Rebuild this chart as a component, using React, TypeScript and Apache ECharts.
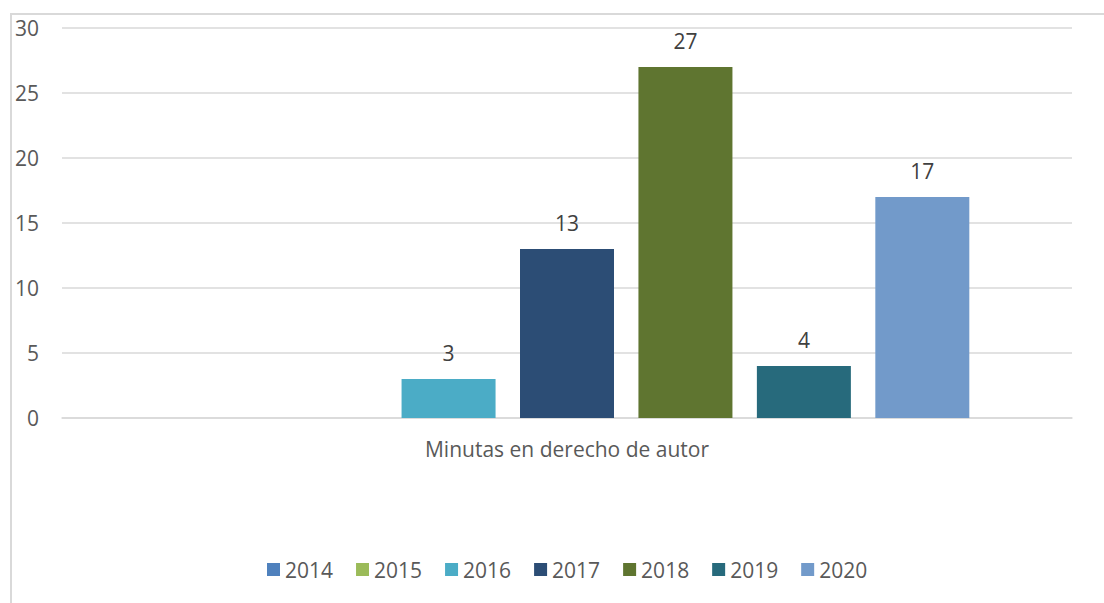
import React, { useEffect, useRef } from "react";
import * as echarts from "echarts";

const categories = ["Minutas en derecho de autor"];
const years = ["2014", "2015", "2016", "2017", "2018", "2019", "2020"];
const values: (number | null)[] = [null, null, 3, 13, 27, 4, 17];
const colors = ["#4F81BD", "#9BBB59", "#4BACC6", "#2C4D75", "#5F7530", "#276A7C", "#729ACA"];
const yTicks = { min: 0, max: 30, interval: 5 };

const FONT = "'Open Sans', 'Noto Sans', sans-serif";

export default function App() {
  const ref = useRef<HTMLDivElement>(null);
  useEffect(() => {
    if (!ref.current) return;
    const chart = echarts.init(ref.current, null, { renderer: "svg" });
    chart.setOption({
      animation: false,
      backgroundColor: "#ffffff",
      textStyle: { fontFamily: FONT },
      graphic: [
        {
          type: "rect",
          shape: { x: 11, y: 14, width: 1300, height: 800 },
          style: { fill: "none", stroke: "#D9D9D9", lineWidth: 2 },
          silent: true,
          z: -1,
        },
      ],
      grid: { left: 62, right: 32, top: 28, bottom: 185, containLabel: false },
      legend: {
        data: years,
        bottom: 18,
        left: 262,
        icon: "rect",
        itemWidth: 13,
        itemHeight: 13,
        itemGap: 23,
        textStyle: { color: "#595959", fontSize: 21, fontFamily: FONT },
      },
      xAxis: {
        type: "category",
        data: categories,
        axisTick: { show: false },
        axisLine: { show: true, lineStyle: { color: "#D9D9D9", width: 1.5 } },
        axisLabel: { color: "#595959", fontSize: 21, margin: 20, fontFamily: FONT },
      },
      yAxis: {
        type: "value",
        min: yTicks.min,
        max: yTicks.max,
        interval: yTicks.interval,
        axisLine: { show: false },
        axisTick: { show: false },
        axisLabel: { color: "#595959", fontSize: 21, margin: 23, fontFamily: FONT },
        splitLine: { lineStyle: { color: "#D9D9D9", width: 1.5 } },
      },
      series: years.map((y, i) => ({
        name: y,
        type: "bar",
        data: [values[i]],
        barWidth: 94,
        barGap: "26%",
        itemStyle: { color: colors[i] },
        label: {
          show: true,
          position: "top",
          distance: 16,
          color: "#404040",
          fontSize: 21,
          fontFamily: FONT,
        },
      })),
    });
    return () => chart.dispose();
  }, []);
  return (
    <div
      ref={ref}
      style={{ position: "absolute", left: 0, top: 0, width: 1104, height: 603, overflow: "hidden" }}
    />
  );
}
